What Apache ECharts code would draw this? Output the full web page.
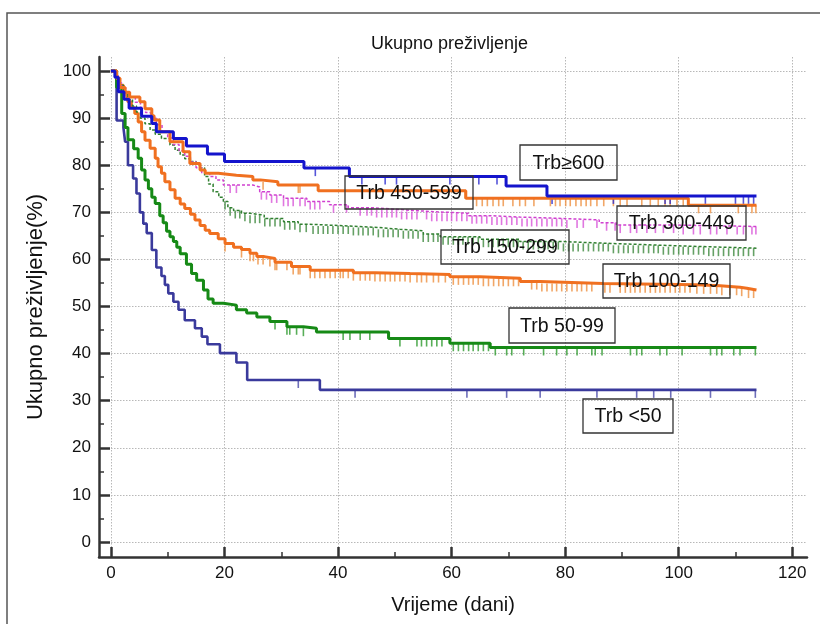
<!DOCTYPE html>
<html>
<head>
<meta charset="utf-8">
<script src="https://cdn.jsdelivr.net/npm/echarts@6.0.0/dist/echarts.min.js"></script>
<style>html,body{margin:0;padding:0;background:#fff;}#c{width:820px;height:624px;}</style>
</head>
<body>
<div id="c"></div>
<script>
// ---- tick labels ----
const xTicks = [0, 20, 40, 60, 80, 100, 120];
const xMinorTicks = [10, 30, 50, 70, 90, 110];
const yTicks = [0, 10, 20, 30, 40, 50, 60, 70, 80, 90, 100];
const yMinorTicks = [5, 15, 25, 35, 45, 55, 65, 75, 85, 95];

// ---- group labels ----
const groupNames = ['Trb≥600', 'Trb 450-599', 'Trb 300-449', 'Trb 150-299', 'Trb 100-149', 'Trb 50-99', 'Trb <50'];

// ---- survival steps [day, %] ----
const trb600 = [[0,100],[0.7,98.7],[1.3,95.6],[2.3,94.0],[3.2,92.1],[5.4,90.4],[7.2,88.9],[8.0,87.1],[11.0,85.7],[13.3,84.1],[17.0,82.4],[20.0,80.8],[34.0,79.4],[42.0,77.6],[69.6,75.6],[76.8,73.5],[113.7,73.5]];
const trb450 = [[0,100],[1.0,98.5],[1.5,96.5],[2.5,95.5],[3.3,94.5],[5.1,93.5],[6.0,92.0],[7.2,90.5],[7.6,89.6],[8.6,87.1],[10.4,85.0],[12.7,82.9],[13.9,80.4],[15.7,79.0],[16.6,78.3],[18.9,77.9],[22.1,77.6],[25.0,76.9],[26.3,76.5],[29.4,75.8],[36.5,74.6],[62.5,73.0],[101.7,71.5],[113.7,71.5]];
const trb300 = [[0,100],[0.8,99.0],[1.3,97.5],[1.9,96.5],[2.6,95.5],[3.4,94.5],[4.3,93.4],[5.2,92.3],[6.1,91.2],[7.0,90.0],[8.0,88.6],[9.0,87.2],[10.0,85.8],[11.0,84.4],[12.0,83.1],[13.0,81.9],[14.0,80.7],[15.0,79.5],[16.0,78.4],[17.4,77.6],[18.5,76.9],[19.8,75.8],[25.0,75.4],[26.2,74.4],[28.0,73.7],[30.4,73.0],[34.5,72.3],[38.5,71.6],[41.8,71.0],[46.0,70.6],[50.9,70.2],[56.0,69.8],[63.0,69.3],[67.0,69.0],[72.0,68.7],[79.6,68.4],[86.0,67.8],[89.0,67.3],[100.0,67.0],[113.7,66.8]];
const trb150 = [[0,100],[0.8,98.5],[1.5,97.0],[2.2,95.5],[3.0,94.0],[3.8,92.6],[4.5,91.3],[5.2,90.0],[6.0,88.8],[6.9,87.5],[7.8,86.6],[8.9,85.7],[10.4,84.3],[11.3,83.2],[12.2,82.2],[13.0,81.4],[14.0,80.8],[15.0,80.2],[15.7,79.5],[16.5,77.6],[17.2,76.0],[18.0,74.4],[19.0,73.2],[19.8,72.3],[20.6,71.0],[21.6,70.4],[23.0,69.8],[24.5,69.4],[27.0,68.7],[30.4,68.0],[33.0,67.5],[34.5,67.1],[42.1,66.8],[47.0,66.4],[50.9,66.1],[55.0,65.4],[58.0,64.8],[65.0,64.3],[72.0,63.8],[79.6,63.4],[88.0,63.0],[97.3,62.7],[105.0,62.4],[113.7,62.3]];
const trb100 = [[0,100],[1.0,98.5],[1.6,97.0],[2.2,95.5],[2.8,94.9],[3.0,93.5],[3.6,92.2],[4.2,91.0],[4.8,89.2],[5.4,87.1],[6.0,85.3],[6.9,83.6],[7.8,81.5],[8.3,79.7],[8.9,78.3],[9.5,76.5],[10.4,74.8],[11.3,73.0],[12.2,71.8],[13.0,70.8],[14.0,69.6],[14.8,68.4],[15.7,67.2],[16.6,66.2],[17.4,65.5],[18.9,64.4],[20.1,63.4],[21.6,62.6],[23.0,62.1],[24.5,61.3],[25.7,60.6],[27.0,60.2],[28.9,59.4],[31.8,58.5],[35.1,57.7],[42.7,57.2],[46.5,57.0],[52.7,56.8],[59.7,56.3],[65.0,56.0],[72.1,55.3],[75.6,54.9],[86.7,54.6],[103.2,54.4],[107.3,54.1],[110.8,53.9],[112.0,53.5],[113.7,53.5]];
const trb50 = [[0,100],[1.0,96.5],[1.9,91.0],[2.5,88.0],[3.0,85.4],[4.0,83.5],[4.8,81.5],[5.4,79.0],[6.0,76.9],[6.6,75.0],[7.2,73.2],[7.8,71.9],[8.6,69.3],[9.2,67.8],[9.8,66.0],[10.4,64.8],[11.0,63.8],[11.6,62.6],[12.2,61.2],[13.3,59.0],[14.2,57.0],[15.1,55.6],[16.3,53.5],[17.1,51.6],[18.0,50.7],[19.8,50.3],[22.1,49.3],[23.9,48.6],[25.7,47.8],[28.0,46.8],[31.0,45.7],[33.9,45.4],[36.2,44.6],[48.9,43.2],[59.7,42.2],[66.8,41.3],[113.7,41.3]];
const trbLt50 = [[0,100],[1.0,89.5],[2.2,88.0],[2.5,85.0],[3.0,80.0],[3.9,77.2],[4.5,74.0],[5.1,70.0],[5.7,67.6],[6.3,65.6],[7.2,62.0],[8.0,58.3],[8.9,56.5],[9.5,54.6],[10.1,52.8],[11.0,51.0],[11.9,49.3],[13.0,47.1],[14.8,45.4],[16.0,43.6],[17.0,42.0],[19.2,40.1],[22.1,38.1],[24.0,34.4],[36.8,32.3],[113.7,32.3]];

// ---- censored times (days) ----
const cens600 = [36.0,44.2,48.3,50.3,59.7,64.8,68.0,77.7,88.5,97.6,98.5,104.7,110.0,111.4,112.3,113.2];
const cens450 = [26.8,33.0,33.3,62.4,64.4,65.4,66.3,67.3,68.3,69.1,70.8,72.0,73.0,74.5,77.4,78.3,79.1,80.1,80.9,81.9,82.8,83.7,84.5,85.6,86.8,88.5,89.7,90.9,93.5,95.0,96.4,97.6,98.5,99.7,100.8,103.5,105.6,110.5,112.9,113.6];
const cens300 = [21.0,22.1,26.5,27.4,28.3,29.2,30.4,31.2,32.1,33.3,34.2,35.1,35.9,36.8,39.2,41.5,43.9,45.1,45.9,46.8,47.7,48.6,49.5,50.3,51.2,52.1,53.0,53.9,55.6,56.5,57.4,58.3,59.2,60.0,60.9,61.8,62.7,63.6,64.4,65.3,66.2,67.1,68.0,68.8,69.7,70.6,71.5,72.4,73.3,74.1,75.0,75.9,76.8,77.7,78.5,79.4,80.3,82.1,83.2,85.6,87.3,88.8,89.7,91.5,92.6,94.4,95.9,97.3,99.1,100.8,102.6,103.8,105.6,106.7,108.5,110.3,111.4,112.9,113.6];
const cens150 = [20.1,21.0,21.9,22.7,23.6,24.5,25.4,26.2,27.1,28.0,28.9,29.8,30.6,31.5,32.4,33.3,34.4,35.6,36.5,37.4,38.2,39.1,40.0,40.9,41.8,42.7,43.6,44.4,45.3,46.2,47.1,48.0,48.8,49.7,50.6,51.5,52.4,53.2,54.1,55.0,55.9,56.8,57.6,58.5,59.4,60.3,61.2,62.0,62.9,63.8,64.7,65.6,66.5,67.3,68.2,69.1,70.0,70.9,71.7,72.6,73.5,74.4,75.3,76.2,77.0,77.9,78.8,79.7,80.6,81.4,82.3,83.2,84.1,85.0,85.9,86.7,87.6,88.5,89.4,90.3,91.1,92.0,92.9,93.8,94.7,95.6,96.4,97.3,98.2,99.1,100.0,100.8,101.7,102.6,103.5,104.4,105.3,106.1,107.0,107.9,108.8,109.7,110.5,111.4,112.3,113.2];
const cens100 = [20.1,23.0,24.5,25.1,25.9,26.8,28.0,28.9,29.2,31.0,32.1,33.0,33.3,35.1,35.9,36.8,37.7,38.6,39.5,40.4,40.9,41.8,42.7,43.9,44.8,45.6,46.5,47.4,48.3,49.2,50.0,50.9,51.8,52.7,53.9,54.7,55.6,56.8,57.7,58.9,60.3,61.2,62.1,63.0,63.8,64.7,65.6,66.5,67.4,68.3,69.1,70.0,70.9,71.8,74.1,75.0,75.9,76.8,77.7,78.5,79.4,80.3,81.2,82.1,82.9,83.8,84.7,87.0,87.9,89.7,90.6,91.5,92.3,93.2,94.1,95.0,95.9,96.7,97.6,98.5,99.4,100.2,101.1,102.0,103.2,104.4,105.6,106.7,107.6,109.0,110.2,111.1,112.3,113.2];
const cens50 = [28.9,31.0,31.5,32.7,33.9,40.9,42.1,43.9,45.6,50.9,53.9,54.7,55.6,56.5,57.4,58.3,60.3,61.2,62.1,63.0,63.8,64.7,65.6,66.5,67.7,69.7,70.6,72.7,76.2,78.5,80.3,82.1,84.7,85.3,86.5,91.5,92.6,93.5,96.7,97.9,100.6,105.6,106.7,107.6,109.7,110.8,113.5];
const censLt50 = [33.0,43.0,62.7,69.7,75.6,85.6,92.6,95.6,98.6,105.6,113.5];

function survAt(curve, t) {
  let v = curve[0][1];
  for (const p of curve) { if (p[0] <= t) v = p[1]; else break; }
  return v;
}
function censPts(curve, times) { return times.map(t => [t, survAt(curve, t)]); }

const groups = [
  {name: groupNames[6], curve: trbLt50, cens: censLt50, color: '#3a3a9c', tick: '#4a4aa8', w: 2.6, type: 'solid'},
  {name: groupNames[5], curve: trb50, cens: cens50, color: '#168a16', tick: '#2e9a2e', w: 3, type: 'solid'},
  {name: groupNames[4], curve: trb100, cens: cens100, color: '#f07020', tick: '#ee9040', w: 3, type: 'solid'},
  {name: groupNames[3], curve: trb150, cens: cens150, color: '#2f7f2f', tick: '#3f8a3f', w: 1.5, type: [3, 2]},
  {name: groupNames[2], curve: trb300, cens: cens300, color: '#d040d0', tick: '#d855d8', w: 1.5, type: [3, 2]},
  {name: groupNames[1], curve: trb450, cens: cens450, color: '#f07020', tick: '#ee9040', w: 3, type: 'solid'},
  {name: groupNames[0], curve: trb600, cens: cens600, color: '#1414cc', tick: '#2a2ad0', w: 3, type: 'solid'}
];

const series = [];
groups.forEach(g => {
  series.push({
    type: 'line', name: g.name, data: g.curve, step: 'end', showSymbol: false,
    xAxisIndex: 0, yAxisIndex: 0, silent: true,
    lineStyle: {color: g.color, width: g.w, type: g.type}
  });
  series.push({
    type: 'scatter', name: g.name + ' c', data: censPts(g.curve, g.cens),
    xAxisIndex: 0, yAxisIndex: 0, silent: true,
    symbol: 'rect', symbolSize: [1.6, 8], symbolOffset: [0, 4],
    itemStyle: {color: g.tick}
  });
});

const FONT = '"Liberation Sans", Arial, sans-serif';
const boxes = [
  {i: 0, x: 520, y: 145, w: 97, h: 35},
  {i: 1, x: 345, y: 176, w: 128, h: 33},
  {i: 2, x: 617, y: 206, w: 129, h: 34},
  {i: 3, x: 441, y: 230, w: 128, h: 34},
  {i: 4, x: 603, y: 264, w: 127, h: 34},
  {i: 5, x: 509, y: 308, w: 106, h: 35},
  {i: 6, x: 583, y: 399, w: 90, h: 34}
];
const graphics = [{
  type: 'rect', shape: {x: 7, y: 13, width: 900, height: 700},
  style: {fill: 'none', stroke: '#555', lineWidth: 1.5}, z: 0, silent: true
}];
boxes.forEach(b => {
  graphics.push({type: 'rect', shape: {x: b.x, y: b.y, width: b.w, height: b.h},
    style: {fill: 'none', stroke: '#333', lineWidth: 1.3}, z: 100, silent: true});
  graphics.push({type: 'text', x: b.x + b.w / 2, y: b.y + b.h / 2 + 1, z: 101, silent: true,
    style: {text: groupNames[b.i], fill: '#111', font: '19.5px ' + FONT,
      align: 'center', verticalAlign: 'middle', textAlign: 'center', textVerticalAlign: 'middle'}});
});

const XMIN = -2.1, XMAX = 122.6, YMIN = -3.2, YMAX = 103;
const axisLineStyle = {color: '#333', width: 2.5};
const chart = echarts.init(document.getElementById('c'), null, {renderer: 'canvas'});
chart.setOption({
  animation: false,
  backgroundColor: '#fff',
  title: {text: 'Ukupno preživljenje', left: 366, top: 30,
    textStyle: {fontSize: 18, fontWeight: 'normal', color: '#111', fontFamily: FONT}},
  grid: {left: 99, right: 13, top: 57, bottom: 67, containLabel: false},
  xAxis: [{
    type: 'value', min: XMIN, max: XMAX,
    name: 'Vrijeme (dani)', nameLocation: 'middle', nameGap: 38,
    nameTextStyle: {fontSize: 20, color: '#111', fontFamily: FONT},
    axisLine: {lineStyle: axisLineStyle, onZero: false},
    axisTick: {show: true, inside: true, length: 10, customValues: xTicks, lineStyle: {color: '#333', width: 2.5}},
    axisLabel: {customValues: xTicks, fontSize: 17, color: '#111', fontFamily: FONT, margin: 8},
    splitLine: {show: true, lineStyle: {color: '#b8b8b8', type: [1.5, 1.5], width: 1}}
  }, {
    type: 'value', min: XMIN, max: XMAX, position: 'bottom', offset: 0,
    axisLine: {show: false, onZero: false},
    axisTick: {show: true, inside: true, length: 5, customValues: xMinorTicks, lineStyle: {color: '#333', width: 1.5}},
    axisLabel: {show: false}, splitLine: {show: false}
  }],
  yAxis: [{
    type: 'value', min: YMIN, max: YMAX,
    name: 'Ukupno preživljenje(%)', nameLocation: 'middle', nameGap: 52, nameRotate: 90,
    nameTextStyle: {fontSize: 22, color: '#111', fontFamily: FONT},
    axisLine: {show: true, lineStyle: axisLineStyle, onZero: false},
    axisTick: {show: true, inside: true, length: 11, customValues: yTicks, lineStyle: {color: '#333', width: 2.5}},
    axisLabel: {customValues: yTicks, fontSize: 17, color: '#111', fontFamily: FONT, margin: 8},
    splitLine: {show: true, lineStyle: {color: '#b8b8b8', type: [1.5, 1.5], width: 1}}
  }, {
    type: 'value', min: YMIN, max: YMAX, position: 'left', offset: 0,
    axisLine: {show: false, onZero: false},
    axisTick: {show: true, inside: true, length: 5, customValues: yMinorTicks, lineStyle: {color: '#333', width: 1.5}},
    axisLabel: {show: false}, splitLine: {show: false}
  }],
  series: series,
  graphic: graphics
});
</script>
</body>
</html>
